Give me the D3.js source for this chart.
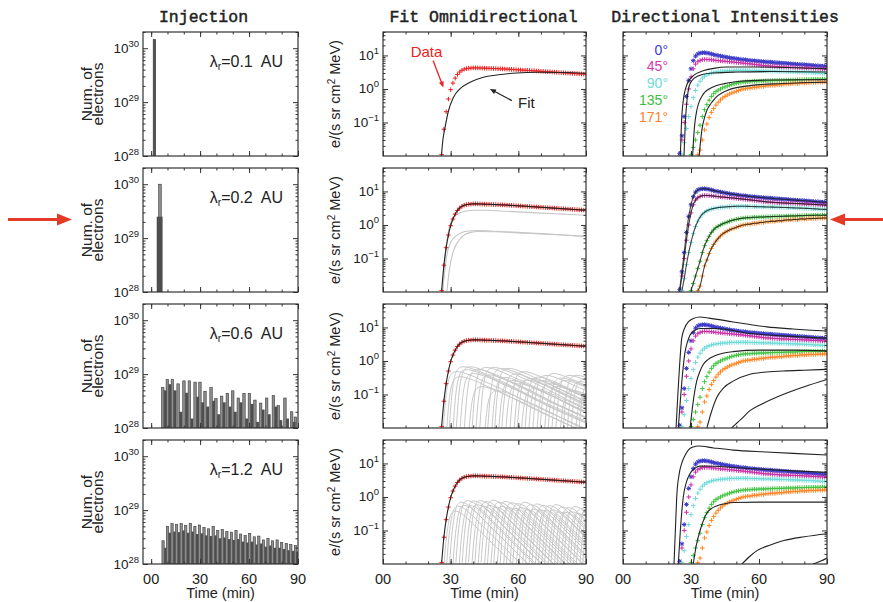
<!DOCTYPE html>
<html><head><meta charset="utf-8">
<script src="https://cdn.jsdelivr.net/npm/d3@7"></script>
<style>body{margin:0;background:#fff;}svg{display:block;font-family:"Liberation Sans",Arial,sans-serif;}</style>
</head><body><svg id="c" width="883" height="602"></svg>
<script>
// ---------------- DATA ----------------
const titles = ["Injection", "Fit Omnidirectional", "Directional Intensities"];
const lambdaVals = ["0.1", "0.2", "0.6", "1.2"];
const xTickVals = [0, 30, 60, 90];
const xTickLabels = ["00", "30", "60", "90"];
const injTickVals = [1e28, 1e29, 1e30];
const injTickExp = ["28", "29", "30"];
const intTickVals = [0.1, 1, 10];
const intTickExp = ["\u22121", "0", "1"];
const angleLabels = ["0\u00B0", "45\u00B0", "90\u00B0", "135\u00B0", "171\u00B0"];

// Injection histograms (time in min, value in 1e28 electrons)
const inj01T = [2.0], inj01V = [145];
const inj02LightT = [5.4], inj02LightV = [100];
const inj02DarkT = [5.2], inj02DarkV = [25];
const inj06LightT = [7.1, 9.9, 13.0, 16.5, 20.1, 23.4, 26.9, 29.9, 33.0, 36.7, 39.7, 43.2, 46.7, 50.0, 53.4, 56.9, 60.2, 63.6, 67.1, 70.8, 74.9, 77.9, 82.0, 86.1, 88.4];
const inj06LightV = [5.6, 7.9, 7.9, 6.6, 7.5, 7.5, 7.1, 7.1, 4.8, 5.6, 3.5, 3.9, 4.4, 4.9, 3.6, 4.4, 4.4, 3.3, 2.9, 3.6, 4.0, 2.6, 3.6, 2.0, 1.6];
const inj06DarkT = [8.7, 11.5, 14.6, 18.1, 21.7, 25.0, 28.5, 31.5, 34.6, 38.3, 41.3, 44.8, 48.3, 51.6, 55.0, 58.5, 61.8, 65.2, 68.7, 72.4, 76.5, 79.5, 83.6, 87.7];
const inj06DarkV = [5.0, 6.5, 5.0, 2.0, 4.5, 1.5, 3.8, 3.0, 2.5, 3.2, 1.8, 3.0, 2.5, 2.0, 3.0, 1.5, 2.8, 1.3, 2.2, 1.8, 2.5, 1.4, 1.5, 1.3];
const inj12LightT = [7.3, 10.0, 12.8, 15.6, 18.4, 21.2, 24.0, 26.8, 29.6, 32.4, 35.2, 38.0, 40.8, 43.6, 46.4, 49.2, 52.0, 54.8, 57.6, 60.4, 63.2, 66.0, 68.8, 71.6, 74.4, 77.2, 80.0, 82.8, 85.6, 88.4];
const inj12LightV = [2.7, 5.0, 5.6, 5.4, 5.6, 5.2, 5.7, 5.0, 5.3, 4.8, 4.5, 5.0, 4.2, 4.4, 4.0, 3.9, 4.2, 3.6, 3.4, 3.7, 3.2, 3.3, 2.8, 3.0, 2.7, 2.8, 2.5, 2.4, 2.3, 2.2];
const inj12DarkT = [8.7, 11.4, 14.2, 17.0, 19.8, 22.6, 25.4, 28.2, 31.0, 33.8, 36.6, 39.4, 42.2, 45.0, 47.8, 50.6, 53.4, 56.2, 59.0, 61.8, 64.6, 67.4, 70.2, 73.0, 75.8, 78.6, 81.4, 84.2, 87.0, 89.4];
const inj12DarkV = [2.0, 3.8, 4.0, 3.9, 4.2, 3.8, 4.0, 3.6, 3.7, 3.4, 3.3, 3.4, 3.0, 3.1, 2.9, 2.8, 2.9, 2.6, 2.5, 2.6, 2.3, 2.4, 2.1, 2.2, 2.0, 2.0, 1.9, 1.8, 1.75, 1.7];

// Omnidirectional data, one point per minute from omniStart
const omniStart = 26;
const omniData = [0.011,0.063,0.21,0.5,0.95,1.5,2.1,2.7,3.2,3.6,3.9,4.05,4.15,4.2,4.25,4.25,4.25,4.22,4.2,4.18,4.15,4.12,4.1,4.07,4.05,4.02,4.0,3.97,3.94,3.9,3.87,3.83,3.8,3.76,3.72,3.69,3.65,3.62,3.58,3.55,3.51,3.48,3.44,3.41,3.37,3.34,3.3,3.27,3.24,3.2,3.17,3.14,3.1,3.07,3.04,3.01,2.98,2.95,2.92,2.89,2.86,2.83,2.8,2.77,2.74];
// Fit for lambda=0.1 (does not match)
const omniFit01 = [[25.9,0.01],[26.5,0.028],[27.5,0.07],[29,0.22],[31.2,0.56],[34.1,1.0],[38.6,1.58],[44.5,2.24],[50.4,2.6],[59.3,3.0],[68.1,3.16],[80,3.1],[90,2.95]];
// Component curves for lambda=0.2
const omniGray02a = [[26.5,0.01],[27.5,0.1],[28.5,0.4],[29.5,0.9],[30.5,1.4],[32,1.9],[34,2.3],[37,2.6],[40,2.75],[45,2.75],[50,2.65],[60,2.45],[70,2.25],[80,2.1],[90,1.95]];
const omniGray02b = [[26.3,0.01],[27.5,0.05],[28.5,0.15],[30,0.3],[32,0.45],[35,0.6],[38,0.66],[42,0.68],[50,0.65],[60,0.6],[70,0.55],[80,0.5],[90,0.46]];
const omniGray02c = [[28.3,0.01],[29.5,0.05],[31,0.15],[33,0.3],[36,0.5],[39,0.6],[42,0.64],[50,0.63],[60,0.58],[70,0.54],[80,0.5],[90,0.45]];
// Component response shapes (minutes after onset, fraction of peak)
const shape06 = [[0,0.015],[1,0.12],[2,0.4],[3,0.7],[4,0.88],[5,0.97],[6,1],[8,0.97],[10,0.88],[14,0.7],[18,0.52],[24,0.35],[30,0.22],[40,0.1],[50,0.05],[60,0.025],[70,0.012]];
const shape12 = [[0,0.014],[1,0.1],[2,0.35],[3,0.7],[4,0.92],[5,1],[6,0.98],[8,0.85],[10,0.65],[13,0.42],[16,0.26],[20,0.14],[25,0.065],[30,0.03],[35,0.014],[40,0.006]];
const gray06Onset = [26.6,28.0,29.4,31.0,32.5,34.0,36.0,37.6,39.5,41.0,42.9,44.5,46.4,48.0,49.5,51.0,52.5,54.0,56.2,57.8,59.2,60.8,62.7,64.3,66.2,67.8,69.5,71.1,72.9,74.5,76.4,78.0,79.7,81.3,83.1,84.7,86.6];
const gray06Peak = [0.48,0.34,0.67,0.55,0.67,0.42,0.56,0.17,0.64,0.38,0.64,0.13,0.6,0.32,0.6,0.26,0.41,0.21,0.48,0.27,0.3,0.15,0.33,0.26,0.37,0.21,0.42,0.17,0.31,0.26,0.37,0.13,0.37,0.24,0.28,0.11,0.25];
const gray12Onset = [26.8,28.1,29.5,30.9,32.3,33.7,35.1,36.5,37.9,39.3,40.7,42.1,43.5,44.9,46.3,47.7,49.1,50.5,51.9,53.3,54.7,56.1,57.5,58.9,60.3,61.7,63.1,64.5,65.9,67.3,68.7,70.1,71.5,72.9,74.3,75.7,77.1,78.5,79.9,81.3,82.7,84.1,85.5,86.9,88.3];
const gray12Peak = [0.38,0.53,0.7,0.56,0.78,0.55,0.76,0.59,0.78,0.53,0.73,0.56,0.8,0.5,0.7,0.52,0.74,0.48,0.67,0.46,0.63,0.48,0.7,0.42,0.59,0.43,0.62,0.41,0.56,0.39,0.55,0.41,0.59,0.36,0.5,0.35,0.48,0.36,0.52,0.32,0.45,0.34,0.46,0.29,0.4];

// Directional intensities, one point per minute from their start minute
const dirStart = [25, 25, 26, 30, 33];
const dir000 = [0.012,0.04,0.15,0.6,1.8,4.0,7.0,9.5,11.0,11.8,12.0,12.1,11.8,11.5,11.0,10.6,10.2,9.9,9.6,9.4,9.0,8.8,8.5,8.3,8.2,7.9,7.8,7.6,7.5,7.4,7.2,7.1,7.0,6.9,6.8,6.7,6.6,6.5,6.45,6.35,6.3,6.2,6.1,6.05,6.0,5.9,5.85,5.8,5.7,5.65,5.6,5.5,5.45,5.4,5.35,5.3,5.2,5.15,5.1,5.0,4.95,4.9,4.85,4.8,4.75,4.7];
const dir045 = [0.01,0.03,0.1,0.35,1.0,2.3,4.0,5.5,6.5,7.1,7.5,7.6,7.6,7.5,7.4,7.3,7.1,7.0,6.9,6.8,6.7,6.6,6.5,6.4,6.3,6.2,6.1,6.0,5.9,5.8,5.7,5.6,5.5,5.4,5.3,5.2,5.1,5.0,4.9,4.85,4.8,4.75,4.7,4.65,4.6,4.55,4.5,4.48,4.45,4.42,4.4,4.37,4.35,4.32,4.28,4.25,4.2,4.17,4.13,4.1,4.06,4.03,4.0,3.97,3.93,3.9];
const dir090 = [0.011,0.025,0.066,0.15,0.3,0.55,0.9,1.3,1.7,2.1,2.4,2.65,2.85,3.0,3.1,3.2,3.3,3.35,3.4,3.45,3.5,3.52,3.55,3.58,3.6,3.6,3.62,3.6,3.6,3.58,3.57,3.55,3.53,3.52,3.5,3.48,3.47,3.45,3.44,3.42,3.4,3.39,3.37,3.36,3.34,3.32,3.3,3.28,3.26,3.24,3.22,3.2,3.18,3.16,3.14,3.12,3.1,3.07,3.04,3.01,2.98,2.95,2.93,2.91,2.9];
const dir135 = [0.011,0.018,0.03,0.05,0.083,0.15,0.24,0.34,0.46,0.6,0.72,0.83,0.92,1.0,1.08,1.15,1.22,1.3,1.36,1.42,1.48,1.52,1.56,1.6,1.62,1.65,1.64,1.68,1.7,1.69,1.72,1.73,1.72,1.75,1.77,1.76,1.78,1.8,1.79,1.81,1.8,1.82,1.84,1.83,1.85,1.86,1.85,1.88,1.9,1.89,1.91,1.93,1.92,1.94,1.93,1.95,1.96,1.94,1.96,1.97,1.95];
const dir171 = [0.011,0.015,0.03,0.06,0.09,0.14,0.2,0.26,0.33,0.4,0.47,0.54,0.6,0.66,0.71,0.76,0.8,0.85,0.9,0.95,1.0,1.02,1.06,1.05,1.1,1.13,1.12,1.17,1.2,1.18,1.25,1.24,1.28,1.3,1.27,1.33,1.35,1.32,1.38,1.4,1.43,1.41,1.45,1.47,1.44,1.5,1.52,1.49,1.53,1.55,1.54,1.57,1.56,1.59,1.58,1.6,1.62,1.6];
const dirColors = ["#3a3ac8", "#cc30a8", "#6ddcd8", "#3ec43e", "#ff8422"];
const legendColors = ["#3b3bd0", "#d23cb0", "#70dcd6", "#3cbe3c", "#ff8030"];

// Directional model curves per lambda (rows 1, 3, 4); row 2 fits follow the data
const dirFit01 = [
  [[25.3,0.01],[25.8,0.1],[26.6,0.45],[28.3,1.4],[31,2.5],[35.4,3.5],[40,4.1],[46,4.5],[60,4.5],[75,4.3],[90,4.0]],
  [[26.9,0.01],[27.5,0.1],[28.3,0.5],[29.5,1.4],[31.5,2.1],[35,2.7],[40,3.0],[50,3.2],[65,3.3],[90,3.2]],
  [[30.7,0.01],[31.5,0.07],[32.5,0.22],[35.4,0.7],[38,1.0],[41.3,1.26],[46,1.5],[51.6,1.7],[65,1.85],[90,1.9]],
  [[33.6,0.01],[34.8,0.06],[36.2,0.16],[39.8,0.45],[45.7,0.89],[56,1.26],[70,1.45],[90,1.58]]
];
const dirFit06 = [
  [[23.4,0.01],[24.2,0.1],[25,0.8],[25.9,4.7],[27.3,10],[28.8,14.6],[31,18.5],[33.9,20.5],[38,19],[48.6,14.6],[63.4,10.4],[75,9],[90,7.8]],
  [[24.4,0.01],[25.5,0.1],[26.5,0.6],[27.4,1.9],[28.5,3.8],[29.6,5.9],[31.5,8.0],[34,9.3],[41.3,9.3],[56,6.6],[70,5.6],[90,4.8]],
  [[29.6,0.01],[30.8,0.05],[32.5,0.25],[34,0.5],[35.4,0.78],[37.5,1.1],[39.8,1.35],[44,1.7],[48.6,1.9],[60,2.1],[75,2.1],[90,2.0]],
  [[37,0.01],[39,0.03],[41.3,0.08],[44.5,0.16],[48.6,0.25],[56,0.4],[62,0.46],[70.6,0.5],[80,0.53],[90,0.56]],
  [[47.9,0.01],[52,0.018],[56,0.033],[62,0.055],[70.6,0.1],[80,0.17],[90,0.28]]
];
const dirFit12 = [
  [[22.5,0.01],[23.1,0.1],[23.7,1.0],[24.7,4.5],[25.9,10],[27.3,17],[28.8,25],[31,31],[33.2,33],[40,29],[48.7,25],[63.4,22],[75,20],[90,17.8]],
  [[24.4,0.01],[25.3,0.1],[26.6,1.0],[28,2.8],[29.6,5],[31.5,7],[34,8.3],[40,8.2],[48.7,7.6],[63.4,6.6],[75,6],[90,5.4]],
  [[31,0.01],[32.3,0.035],[34,0.1],[35.5,0.2],[36.9,0.32],[39,0.45],[41.3,0.54],[45,0.63],[48.7,0.68],[60,0.7],[75,0.7],[90,0.7]],
  [[52.5,0.01],[56,0.017],[59.1,0.025],[65,0.037],[70.9,0.05],[80,0.065],[90,0.08]],
  [[83.9,0.01],[87,0.012],[90,0.015]]
];

// ---------------- LAYOUT ----------------
const svg = d3.select("#c");
const PH = 124;
const colX = [143, 383, 623], colW = [155, 203, 204], rowY = [32, 168, 304, 440];
const ink = "#222";

const xInj = d3.scaleLinear().domain([-5, 90]).range([0, colW[0]]);
const yInj = d3.scaleLog().domain([1e28, 2e30]).range([PH, 0]);
const xMid = d3.scaleLinear().domain([0, 90]).range([0, colW[1]]);
const xDir = d3.scaleLinear().domain([0, 90]).range([0, colW[2]]);
const yInt = d3.scaleLog().domain([0.01, 50]).range([PH, 0]);

const defs = svg.append("defs");
function panel(col, row) {
  const id = "cl" + col + row;
  defs.append("clipPath").attr("id", id).append("rect").attr("width", colW[col]).attr("height", PH);
  const g = svg.append("g").attr("transform", `translate(${colX[col]},${rowY[row]})`);
  const inner = g.append("g").attr("clip-path", `url(#${id})`);
  return { g, inner };
}
function minorLog(lo, hi) {
  const out = [];
  for (let e = Math.floor(Math.log10(lo)); e <= Math.ceil(Math.log10(hi)); e++)
    for (let k = 2; k <= 9; k++) { const v = k * Math.pow(10, e); if (v >= lo && v <= hi) out.push(v); }
  return out;
}
const xMinorVals = [0, 10, 20, 30, 40, 50, 60, 70, 80, 90];
function frame(g, w, xs, ys, yMaj, yMin) {
  const mk = (axis, vals, size) => axis.tickValues(vals).tickSize(size).tickSizeOuter(0).tickFormat("");
  const add = (axis, tr) => { const a = g.append("g").attr("transform", tr).attr("color", "#333").call(axis); a.select(".domain").remove(); };
  add(mk(d3.axisBottom(xs), xTickVals, -5), `translate(0,${PH})`);
  add(mk(d3.axisBottom(xs), xMinorVals, -2.5), `translate(0,${PH})`);
  add(mk(d3.axisTop(xs), xTickVals, -5), "translate(0,0)");
  add(mk(d3.axisTop(xs), xMinorVals, -2.5), "translate(0,0)");
  add(mk(d3.axisLeft(ys), yMaj, -5), "translate(0,0)");
  add(mk(d3.axisLeft(ys), yMin, -2.5), "translate(0,0)");
  add(mk(d3.axisRight(ys), yMaj, -5), `translate(${w},0)`);
  add(mk(d3.axisRight(ys), yMin, -2.5), `translate(${w},0)`);
  g.append("rect").attr("width", w).attr("height", PH).attr("fill", "none").attr("stroke", "#333").attr("stroke-width", 1.2);
}
function powLabels(g, ys, vals, exps) {
  vals.forEach((v, i) => {
    const t = g.append("text").attr("x", -4).attr("y", ys(v) + 4.5).attr("text-anchor", "end")
      .attr("font-size", 13.5).attr("fill", ink);
    t.append("tspan").text("10");
    t.append("tspan").attr("dy", -6).attr("font-size", 9.5).text(exps[i]);
  });
}
function xLabels(g, xs, w) {
  xTickVals.forEach((v, i) => g.append("text").attr("x", xs(v)).attr("y", PH + 19.5).attr("text-anchor", "middle")
    .attr("font-size", 14.5).attr("fill", ink).text(xTickLabels[i]));
  g.append("text").attr("x", w / 2).attr("y", PH + 34).attr("text-anchor", "middle").attr("font-size", 14.5)
    .attr("fill", ink).text("Time (min)");
}
const lineI = (xs) => d3.line().x(d => xs(d[0])).y(d => yInt(d[1])).curve(d3.curveMonotoneX);
const plusPath = "M-2.3,0H2.3M0,-2.3V2.3";
const starPath = plusPath + "M-1.7,-1.7L1.7,1.7M-1.7,1.7L1.7,-1.7";
function markers(inner, xs, pts, color, path) {
  inner.append("g").selectAll("path").data(pts).join("path")
    .attr("transform", d => `translate(${xs(d[0])},${yInt(d[1])})`)
    .attr("d", path).attr("fill", "none").attr("stroke", color).attr("stroke-width", 1);
}
function drawBars(inner, times, vals, width, fill, stroke) {
  inner.append("g").selectAll("rect").data(times.map((t, i) => [t, vals[i]])).join("rect")
    .attr("x", d => xInj(d[0] - width / 2)).attr("width", d => xInj(d[0] + width / 2) - xInj(d[0] - width / 2))
    .attr("y", d => yInj(d[1] * 1e28)).attr("height", d => PH - yInj(d[1] * 1e28))
    .attr("fill", fill).attr("stroke", stroke).attr("stroke-width", stroke === "none" ? 0 : 0.6);
}
function arrow(g, x1, y1, x2, y2, color, lw, hl, hw) {
  const a = Math.atan2(y2 - y1, x2 - x1);
  const bx = x2 - hl * Math.cos(a), by = y2 - hl * Math.sin(a);
  g.append("line").attr("x1", x1).attr("y1", y1).attr("x2", bx + 0.5 * Math.cos(a)).attr("y2", by + 0.5 * Math.sin(a))
    .attr("stroke", color).attr("stroke-width", lw);
  const px = -Math.sin(a) * hw / 2, py = Math.cos(a) * hw / 2;
  g.append("polygon").attr("points", `${x2},${y2} ${bx + px},${by + py} ${bx - px},${by - py}`).attr("fill", color);
}

const omniPts = omniData.map((v, i) => [omniStart + i, v]);
const dirSeries = [dir000, dir045, dir090, dir135, dir171].map((arr, k) => arr.map((v, i) => [dirStart[k] + i, v]));
const injMinor = minorLog(1e28, 2e30);
const intMinor = minorLog(0.01, 50);
const injLight = [[inj01T, inj01V], [inj02LightT, inj02LightV], [inj06LightT, inj06LightV], [inj12LightT, inj12LightV]];
const injDark = [[[], []], [inj02DarkT, inj02DarkV], [inj06DarkT, inj06DarkV], [inj12DarkT, inj12DarkV]];
const lightW = [1.5, 1.6, 1.5, 1.4], darkW = [0, 3.6, 1.7, 1.45];
const grayFamilies = [null, null, [gray06Onset, gray06Peak, shape06], [gray12Onset, gray12Peak, shape12]];
const dirFits = [dirFit01, null, dirFit06, dirFit12];

// Titles
const titleX = [colX[0] + colW[0] / 2 - 17, colX[1] + colW[1] / 2 - 1, colX[2] + colW[2] / 2];
titles.forEach((t, i) => svg.append("text").attr("x", titleX[i]).attr("y", 22).attr("text-anchor", "middle")
  .attr("font-family", "'Liberation Mono','DejaVu Sans Mono',monospace").attr("font-size", 16.5).attr("fill", ink)
  .attr("stroke", ink).attr("stroke-width", 0.45).text(t));

for (let r = 0; r < 4; r++) {
  // ---------- Injection column ----------
  {
    const { g, inner } = panel(0, r);
    const L = injLight[r], D = injDark[r];
    drawBars(inner, L[0], L[1], lightW[r], r === 0 ? "#555" : "#8e8e8e", r === 0 ? "#333" : "#3a3a3a");
    if (D[0].length) drawBars(inner, D[0], D[1], darkW[r], "#4e4e4e", "none");
    frame(g, colW[0], xInj, yInj, injTickVals, injMinor);
    powLabels(g, yInj, injTickVals, injTickExp);
    const lt = g.append("text").attr("x", colW[0] - 15).attr("y", 35).attr("text-anchor", "end")
      .attr("font-size", 16).attr("fill", ink).style("white-space", "pre");
    lt.append("tspan").text("\u03BB");
    lt.append("tspan").attr("dy", 3).attr("font-size", 10.5).text("r");
    lt.append("tspan").attr("dy", -3).text("=" + lambdaVals[r] + "  AU");
    [["Num. of", -51.5], ["electrons", -40.5]].forEach(([s, dx]) =>
      g.append("text").attr("transform", `translate(${dx},${PH / 2}) rotate(-90)`).attr("text-anchor", "middle")
        .attr("font-size", 15.5).attr("fill", ink).text(s));
    if (r === 3) xLabels(g, xInj, colW[0]);
  }
  // ---------- Omnidirectional column ----------
  {
    const { g, inner } = panel(1, r);
    if (r === 1) [omniGray02a, omniGray02b, omniGray02c].forEach(c =>
      inner.append("path").attr("d", lineI(xMid)(c)).attr("fill", "none").attr("stroke", "#c6c6c6").attr("stroke-width", 1.1));
    const fam = grayFamilies[r];
    if (fam) fam[0].forEach((on, i) => {
      const pts = fam[2].map(s => [on + s[0], fam[1][i] * s[1]]);
      inner.append("path").attr("d", lineI(xMid)(pts)).attr("fill", "none").attr("stroke", "#c8c8c8").attr("stroke-width", 1);
    });
    markers(inner, xMid, omniPts, "#ee2020", plusPath);
    inner.append("path").attr("d", lineI(xMid)(r === 0 ? omniFit01 : omniPts)).attr("fill", "none")
      .attr("stroke", ink).attr("stroke-width", 1.1);
    frame(g, colW[1], xMid, yInt, intTickVals, intMinor);
    powLabels(g, yInt, intTickVals, intTickExp);
    const yl = g.append("text").attr("transform", `translate(-43.5,${PH / 2}) rotate(-90)`).attr("text-anchor", "middle")
      .attr("font-size", 14.5).attr("fill", ink);
    yl.append("tspan").text("e/(s sr cm");
    yl.append("tspan").attr("dy", -5).attr("font-size", 10).text("2");
    yl.append("tspan").attr("dy", 5).text(" MeV)");
    if (r === 0) {
      g.append("text").attr("x", xMid(19.3)).attr("y", yInt(8.7)).attr("text-anchor", "middle").attr("font-size", 15)
        .attr("fill", "#ee2222").text("Data");
      arrow(g, xMid(22.2), yInt(7.1), xMid(26.8), yInt(1.1), "#ee2222", 1.3, 6, 5);
      g.append("text").attr("x", xMid(59.9)).attr("y", yInt(0.275)).attr("font-size", 15).attr("fill", ink).text("Fit");
      arrow(g, xMid(57.1), yInt(0.45), xMid(47.4), yInt(1.0), ink, 1.3, 6, 5);
    }
    if (r === 3) xLabels(g, xMid, colW[1]);
  }
  // ---------- Directional column ----------
  {
    const { g, inner } = panel(2, r);
    dirSeries.forEach((pts, k) => markers(inner, xDir, pts, dirColors[k], k === 0 ? starPath : plusPath));
    const fits = dirFits[r] || dirSeries;
    fits.forEach(c => inner.append("path").attr("d", lineI(xDir)(c)).attr("fill", "none")
      .attr("stroke", ink).attr("stroke-width", 1.1).attr("opacity", dirFits[r] ? 1 : 0.85));
    frame(g, colW[2], xDir, yInt, intTickVals, intMinor);
    if (r === 0) angleLabels.forEach((s, k) => g.append("text").attr("x", 45).attr("y", 22.5 + 16.8 * k)
      .attr("text-anchor", "end").attr("font-size", 14).attr("fill", legendColors[k]).text(s));
    if (r === 3) xLabels(g, xDir, colW[2]);
  }
}

// Red pointer arrows at the lambda=0.2 row
arrow(svg, 8, 219.5, 72, 219.5, "#e43a28", 3, 15, 12);
arrow(svg, 883, 219.5, 830, 219.5, "#e43a28", 3, 15, 12);
</script></body></html>
